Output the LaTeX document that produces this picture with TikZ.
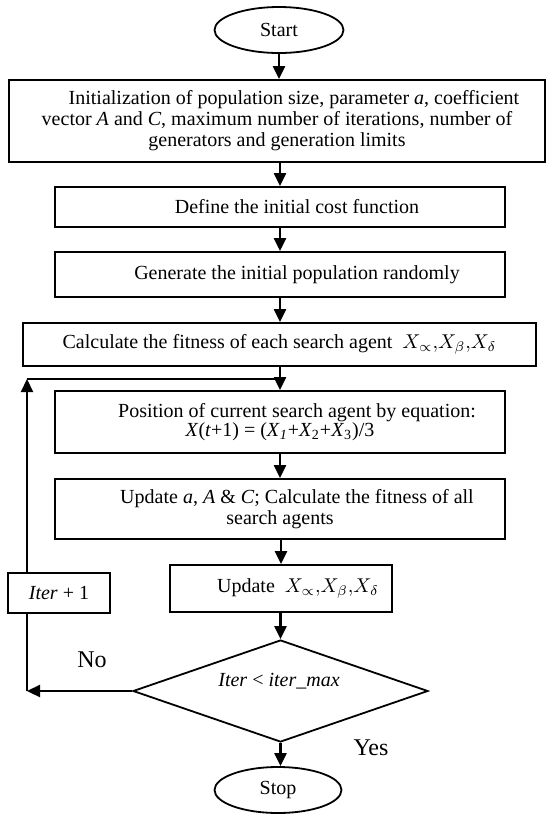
\documentclass[tikz,border=0pt]{standalone}
\usepackage{fontspec}
\setmainfont{Liberation Serif}
\usetikzlibrary{shapes.geometric,arrows.meta}
\begin{document}
\begin{tikzpicture}[x=0.5pt,y=-0.5pt,
  box/.style={draw,line width=0.9pt,inner sep=0pt,align=center,font=\fontsize{10}{10.5}\selectfont},
  oval/.style={draw,ellipse,line width=0.9pt,inner sep=0pt,font=\fontsize{10}{12}\selectfont},
  arr/.style={line width=1.1pt,-{Triangle[width=6pt,length=6.5pt]}},
  ln/.style={line width=1.1pt},
  lbl/.style={font=\fontsize{12}{14}\selectfont,inner sep=0pt}]
\useasboundingbox (0,0) rectangle (547,816);
\node[oval,minimum width=64.5pt,minimum height=23pt] (start) at (279,30) {Start};
\node[box,minimum width=268pt,minimum height=41pt] (init) at (277,121)
  {\hspace*{17pt}Initialization of population size, parameter \textit{a}, coefficient\\
   vector \textit{A} and \textit{C}, maximum number of iterations, number of\\
   generators and generation limits};
\node[box,minimum width=225pt,minimum height=20pt] (def) at (280,207)
  {\hspace*{17pt}Define the initial cost function};
\node[box,minimum width=225pt,minimum height=22.5pt] (gen) at (280,274.5)
  {\hspace*{17pt}Generate the initial population randomly};
\node[box,minimum width=256.5pt,minimum height=21.5pt] (calc) at (279.5,344.5)
  {Calculate the fitness of each search agent \ $X_{\propto}{,}X_{\beta}{,}X_{\delta}$};
\node[box,minimum width=225pt,minimum height=31pt,font=\fontsize{10}{9.5}\selectfont] (pos) at (280,422)
  {\hspace*{17pt}Position of current search agent by equation:\\
   \textit{X}(\textit{t}+1) = (\textit{X}\textsubscript{\textit{1}}+\textit{X}\textsubscript{2}+\textit{X}\textsubscript{3})/3};
\node[box,minimum width=225pt,minimum height=30pt] (upa) at (280,509)
  {\hspace*{17pt}Update \textit{a}, \textit{A} \& \textit{C}; Calculate the fitness of all\\
   search agents};
\node[box,minimum width=111pt,minimum height=23.5pt] (upx) at (281,588.5)
  {\hspace*{17pt}Update \ $X_{\propto}{,}X_{\beta}{,}X_{\delta}$};
\node[draw,diamond,line width=0.9pt,inner sep=0pt,minimum width=147.5pt,minimum height=51pt] (dec) at (280.5,691) {};
\node[inner sep=0pt,font=\fontsize{10}{12}\selectfont] (dtext) at (279,681) {\textit{Iter} < \textit{iter\_max}};
\node[oval,minimum width=63.5pt,minimum height=23pt] (stop) at (278,790) {Stop};
\node[box,minimum width=51pt,minimum height=20pt] (iter) at (59,593) {\textit{Iter} + 1};
\node[lbl] (no) at (92,660) {No};
\node[lbl] (yes) at (371,748) {Yes};
% main flow
\draw[arr] (start.south) -- (start.south |- init.north);
\draw[arr] (def.north |- init.south) -- (def.north);
\draw[arr] (def.south) -- (gen.north);
\draw[arr] (gen.south) -- (gen.south |- calc.north);
\draw[arr] (pos.north |- calc.south) -- (pos.north);
\draw[arr] (pos.south) -- (upa.north);
\draw[arr] (upx.north |- upa.south) -- (upx.north);
\draw[arr] (dec.north |- upx.south) -- (dec.north);
\draw[arr] (dec.south) -- (dec.south |- stop.north);
% loop
\coordinate (lb) at (27,691);
\coordinate (lt) at (27,379);
\coordinate (lj) at (280,379);
\draw[arr] (dec.west) -- (lb);
\draw[ln] (lb) -- (lb |- iter.south);
\draw[arr] (lt |- iter.north) -- (lt);
\draw[ln] (lt) -- (lj);
\end{tikzpicture}
\end{document}
